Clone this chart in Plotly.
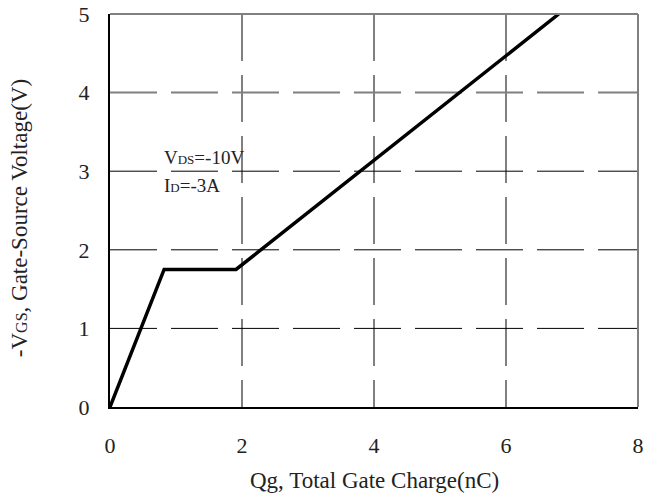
import plotly.graph_objects as go

# Data
qg_nc = [0.0, 0.82, 1.91, 6.80]
vgs_v = [0.0, 1.75, 1.75, 5.00]

x_ticks = [0, 2, 4, 6, 8]
y_ticks = [0, 1, 2, 3, 4, 5]
y_grid_black = [1, 2, 3]
y_grid_gray = [4]
x_grid = [2, 4, 6]

FONT = "Liberation Serif"
DASH = "47px,14px"

fig = go.Figure()
fig.add_trace(go.Scatter(x=qg_nc, y=vgs_v, mode="lines",
                         line=dict(color="black", width=3.5),
                         showlegend=False, hoverinfo="skip"))

shapes = []
for xv in x_grid:
    shapes.append(dict(type="line", xref="x", yref="y", x0=xv, x1=xv, y0=5, y1=0,
                       line=dict(color="black", width=1, dash=DASH), layer="below"))
for yv in y_grid_black:
    shapes.append(dict(type="line", xref="x", yref="y", x0=0, x1=8, y0=yv, y1=yv,
                       line=dict(color="black", width=1, dash=DASH), layer="below"))
for yv in y_grid_gray:
    shapes.append(dict(type="line", xref="x", yref="y", x0=0, x1=8, y0=yv, y1=yv,
                       line=dict(color="#808080", width=2, dash=DASH), layer="below"))
# top and right frame (gray)
shapes.append(dict(type="line", xref="paper", yref="paper", x0=0, x1=1, y0=1, y1=1,
                   line=dict(color="#808080", width=2)))
shapes.append(dict(type="line", xref="paper", yref="paper", x0=1, x1=1, y0=0, y1=1,
                   line=dict(color="#808080", width=2)))

annotations = [
    dict(x=0.5, y=-0.186, xref="paper", yref="paper", showarrow=False,
         text="Qg, Total Gate Charge(nC)", font=dict(family=FONT, size=23, color="#222"),
         xanchor="center", yanchor="middle"),
    dict(x=-0.170, y=0.481, xref="paper", yref="paper", showarrow=False, textangle=-90,
         text="-V<span style='font-size:16px'>GS</span>, Gate-Source Voltage(V)",
         font=dict(family=FONT, size=23, color="#222"),
         xanchor="center", yanchor="middle"),
    dict(x=0.79, y=3.17, xref="x", yref="y", showarrow=False, xanchor="left", yanchor="middle",
         text="V<span style='font-size:13px'>DS</span>=-10V",
         font=dict(family=FONT, size=19, color="#222")),
    dict(x=0.79, y=2.82, xref="x", yref="y", showarrow=False, xanchor="left", yanchor="middle",
         text="I<span style='font-size:13px'>D</span>=-3A",
         font=dict(family=FONT, size=19, color="#222")),
]

fig.update_layout(
    width=656, height=493,
    margin=dict(l=110, r=18, t=14, b=86, autoexpand=False),
    plot_bgcolor="white", paper_bgcolor="white",
    shapes=shapes, annotations=annotations,
    font=dict(family=FONT, size=22, color="#222"),
)
fig.update_xaxes(range=[0, 8], tickvals=x_ticks, showgrid=False, zeroline=False,
                 showline=True, linecolor="black", linewidth=2, ticks="",
                 automargin=False, ticklabelstandoff=18, tickfont=dict(family=FONT, size=22))
fig.update_yaxes(range=[0, 5], tickvals=y_ticks, showgrid=False, zeroline=False,
                 showline=True, linecolor="black", linewidth=2, ticks="",
                 automargin=False, ticklabelstandoff=14, tickfont=dict(family=FONT, size=22))

fig.write_html("out.html", config={"displayModeBar": False},
               post_script="document.body.style.margin='0';document.body.style.overflow='hidden';")
